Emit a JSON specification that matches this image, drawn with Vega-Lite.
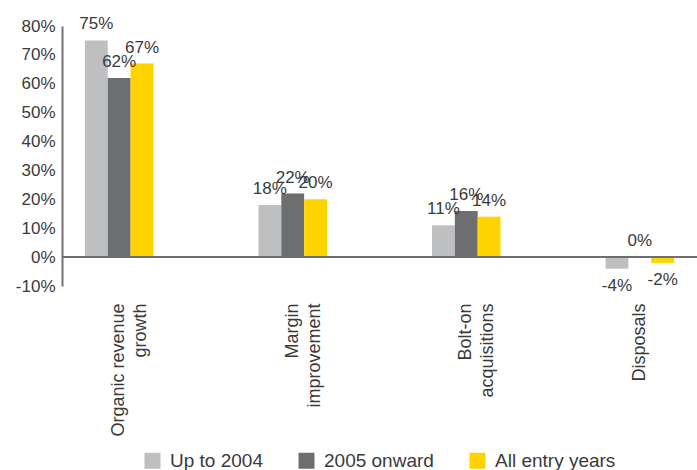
{
  "$schema": "https://vega.github.io/schema/vega-lite/v6.json",
  "width": 635,
  "height": 260,
  "autosize": {"type": "none"},
  "padding": {"left": 62, "top": 26, "right": 0, "bottom": 184},
  "background": "white",
  "config": {
    "view": {"stroke": null},
    "font": "Liberation Sans",
    "text": {"font": "Liberation Sans"},
    "locale": {"number": {"decimal": ".", "thousands": ",", "grouping": [3], "currency": ["$", ""], "minus": "-"}},
    "legend": {"layout": {"bottom": {"anchor": "middle"}}}
  },
  "data": {
    "values": [
      {"category": "Organic revenue\ngrowth", "period": "Up to 2004", "value": 0.75},
      {"category": "Organic revenue\ngrowth", "period": "2005 onward", "value": 0.62},
      {"category": "Organic revenue\ngrowth", "period": "All entry years", "value": 0.67},
      {"category": "Margin\nimprovement", "period": "Up to 2004", "value": 0.18},
      {"category": "Margin\nimprovement", "period": "2005 onward", "value": 0.22},
      {"category": "Margin\nimprovement", "period": "All entry years", "value": 0.20},
      {"category": "Bolt-on\nacquisitions", "period": "Up to 2004", "value": 0.11},
      {"category": "Bolt-on\nacquisitions", "period": "2005 onward", "value": 0.16},
      {"category": "Bolt-on\nacquisitions", "period": "All entry years", "value": 0.14},
      {"category": "Disposals", "period": "Up to 2004", "value": -0.04},
      {"category": "Disposals", "period": "2005 onward", "value": 0.0},
      {"category": "Disposals", "period": "All entry years", "value": -0.02}
    ]
  },
  "encoding": {
    "x": {
      "field": "category",
      "type": "nominal",
      "sort": ["Organic revenue\ngrowth", "Margin\nimprovement", "Bolt-on\nacquisitions", "Disposals"],
      "scale": {"paddingInner": 0.605, "paddingOuter": 0.132},
      "axis": {
        "title": null,
        "domain": false,
        "ticks": false,
        "tickSize": 0,
        "labelAngle": -90,
        "labelAlign": "right",
        "labelBaseline": "middle",
        "labelPadding": 17,
        "labelFontSize": 18,
        "labelColor": "#3a3a3a",
        "labelLineHeight": 22,
        "labelExpr": "split(datum.label, '\\n')"
      }
    },
    "xOffset": {
      "field": "period",
      "sort": ["Up to 2004", "2005 onward", "All entry years"],
      "scale": {"paddingInner": 0, "paddingOuter": 0}
    },
    "y": {
      "field": "value",
      "type": "quantitative",
      "scale": {"domain": [-0.1, 0.8], "nice": false, "zero": false},
      "axis": {
        "title": null,
        "format": ".0%",
        "values": [-0.1, 0, 0.1, 0.2, 0.3, 0.4, 0.5, 0.6, 0.7, 0.8],
        "grid": false,
        "ticks": false,
        "domainColor": "#707070",
        "domainWidth": 2,
        "labelPadding": 7,
        "labelFontSize": 17,
        "labelColor": "#3a3a3a"
      }
    }
  },
  "layer": [
    {
      "mark": {"type": "bar"},
      "encoding": {
        "color": {
          "field": "period",
          "type": "nominal",
          "sort": ["Up to 2004", "2005 onward", "All entry years"],
          "scale": {
            "domain": ["Up to 2004", "2005 onward", "All entry years"],
            "range": ["#bebfc1", "#6d6e70", "#ffd300"]
          },
          "legend": {
            "title": null,
            "orient": "bottom",
            "direction": "horizontal",
            "symbolType": "square",
            "symbolSize": 256,
            "symbolStrokeWidth": 0,
            "symbolOpacity": 1,
            "labelFontSize": 19,
            "labelColor": "#3a3a3a",
            "labelOffset": 8,
            "columnPadding": 34,
            "offset": 14
          }
        }
      }
    },
    {
      "transform": [{"filter": "datum.value >= 0"}],
      "mark": {"type": "text", "baseline": "alphabetic", "dy": -11, "fontSize": 17, "color": "#3a3a3a"},
      "encoding": {"text": {"field": "value", "format": ".0%"}}
    },
    {
      "transform": [{"filter": "datum.value < 0"}],
      "mark": {"type": "text", "baseline": "top", "dy": 9, "fontSize": 17, "color": "#3a3a3a"},
      "encoding": {"text": {"field": "value", "format": ".0%"}}
    },
    {
      "mark": {"type": "rule", "color": "#6d6e70", "strokeWidth": 2},
      "encoding": {"y": {"datum": 0}, "x": null, "xOffset": null}
    }
  ]
}
